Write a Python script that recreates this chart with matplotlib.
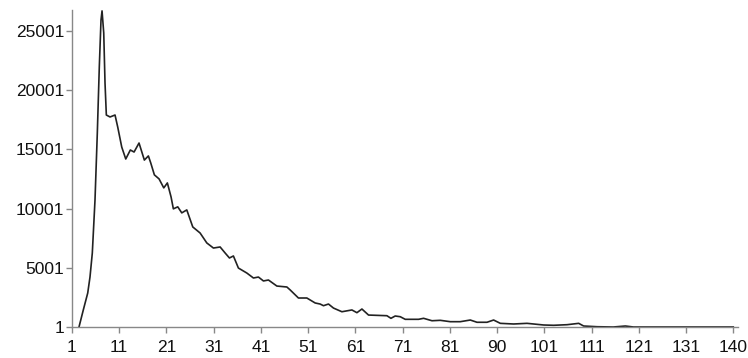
import matplotlib.pyplot as plt

plt.rcParams['font.family'] = ['Liberation Sans', 'DejaVu Sans']

# curve (x in category units, 0 = first tick)
xs = [1.48, 2.39, 3.33, 3.81, 4.30, 4.87, 5.36, 5.78, 6.14, 6.36, 6.72, 6.99, 7.27,
      8.05, 9.11, 9.68, 10.53, 11.38, 12.35, 13.14, 14.19, 15.32, 16.17, 16.67,
      17.44, 18.43, 19.43, 20.19, 20.97, 21.46, 22.39, 23.24, 24.30, 25.57, 27.12,
      28.54, 29.94, 31.36, 32.42, 33.33, 34.17, 35.23, 37.01, 38.41, 39.47, 40.53,
      41.59, 43.37, 45.49, 46.19, 47.94, 49.72, 51.48, 52.54, 53.24, 54.30, 55.36,
      57.14, 59.26, 60.32, 61.38, 62.78, 66.67, 67.52, 68.43, 69.49, 70.55, 73.37,
      74.43, 76.21, 77.97, 80.08, 82.20, 84.32, 85.74, 87.86, 89.26, 90.68, 93.50,
      96.33, 97.73, 99.85, 101.97, 104.81, 107.27, 108.32, 111.16, 114.6, 117.16,
      118.86, 140.0]
ys = [1, 1436, 2872, 4223, 6250, 10727, 16385, 21960, 25930, 26700, 24830, 20610, 17905,
      17740, 17905, 16890, 15200, 14190, 14950, 14780, 15540, 14100, 14450, 13860,
      12850, 12510, 11750, 12170, 10990, 9980, 10150, 9640, 9890, 8450, 7940,
      7100, 6670, 6760, 6250, 5830, 6000, 4980, 4560, 4140, 4220, 3890,
      3970, 3460, 3380, 3130, 2450, 2450, 2030, 1940, 1800, 1940, 1600,
      1290, 1440, 1210, 1520, 1010, 955, 735, 930, 870, 650, 650,
      735, 530, 565, 450, 450, 590, 400, 400, 590, 310, 255,
      310, 255, 170, 145, 195, 310, 85, 25, 1, 85,
      1, 1]

x_labels = ['1', '11', '21', '31', '41', '51', '61', '71', '81', '90',
            '101', '111', '121', '131', '140']
y_ticks = [1, 5001, 10001, 15001, 20001, 25001]

fig = plt.figure(figsize=(7.48, 3.58), dpi=100)
ax = fig.add_axes([72/748, 31/358, (738-72)/748, (327-10)/358])

ax.plot(xs, ys, color='#222222', lw=1.2, solid_joinstyle='round')

ax.set_xlim(0, 141)
ax.set_ylim(1, 26775)
ax.set_xticks(range(0, 141, 10))
ax.set_xticklabels(x_labels)
ax.set_yticks(y_ticks)
ax.set_yticklabels([str(v) for v in y_ticks])

for s in ['top', 'right']:
    ax.spines[s].set_visible(False)
for s in ['left', 'bottom']:
    ax.spines[s].set_color('#888888')
    ax.spines[s].set_linewidth(1.0)
ax.tick_params(axis='both', colors='#888888', length=4.5, width=1.0,
               labelcolor='#111111', labelsize=12.5)
ax.tick_params(axis='x', pad=5)
ax.tick_params(axis='y', pad=1)

fig.savefig('out.png', dpi=100)
